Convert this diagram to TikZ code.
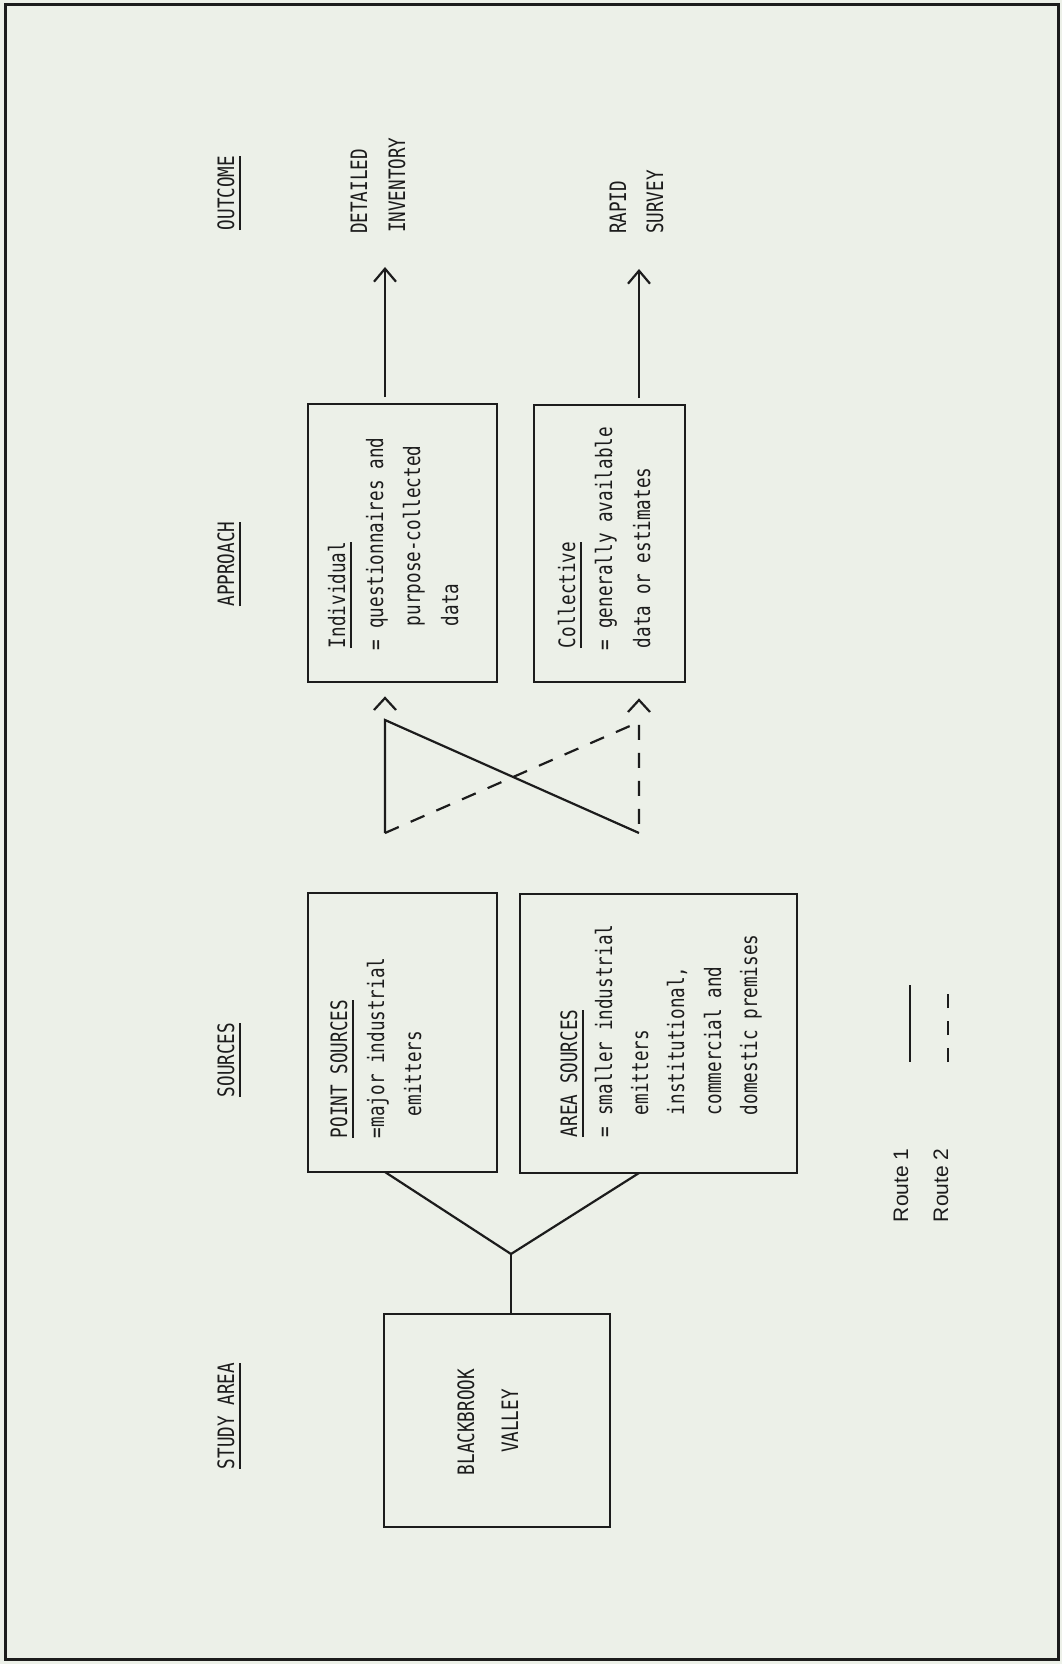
\documentclass[tikz,border=0pt]{standalone}
\usepackage{fontspec}
\newfontfamily\plotfont[FakeStretch=0.78]{DejaVu Sans Mono}
\newfontfamily\legfont{Liberation Sans}
\usetikzlibrary{arrows.meta,calc}
\definecolor{paper}{RGB}{236,240,232}
\definecolor{ink}{RGB}{28,28,28}
\newsavebox\ulbox
\newcommand\plotul[1]{\sbox\ulbox{#1}\rlap{\rule[-3.6pt]{\wd\ulbox}{1pt}}\usebox\ulbox}
\tikzset{
  txt/.style={rotate=90, anchor=base west, inner sep=0pt, outer sep=0pt, text=ink,
    font=\plotfont\fontsize{11.3pt}{13pt}\selectfont},
  hdr/.style={txt, anchor=base},
  leg/.style={rotate=90, anchor=base west, inner sep=0pt, outer sep=0pt, text=ink,
    font=\legfont\fontsize{10.5pt}{12pt}\selectfont},
  box/.style={draw=ink, line width=1.3pt, inner sep=0pt, outer sep=0pt},
  conn/.style={draw=ink, line width=1.1pt},
  dashes/.style={dash pattern=on 7.5pt off 6.5pt},
  tip/.style={-{Straight Barb[length=6.5pt,width=11pt]}}
}
\begin{document}
\begin{tikzpicture}[x=0.5pt,y=-0.5pt]
\fill[paper] (0,0) rectangle (1062,1664);
\draw[ink, line width=1.5pt] (5,5) rectangle (1058,1659);

% column headers
\node[hdr] (hStudy) at (234,1416) {\plotul{STUDY AREA}};
\node[hdr] (hSrc) at (234,1060) {\plotul{SOURCES}};
\node[hdr] (hAppr) at (234,564) {\plotul{APPROACH}};
\node[hdr] (hOut) at (234,193) {\plotul{OUTCOME}};

% boxes
\node[box, minimum width=113pt, minimum height=106.5pt] (bb) at (497,1420.5) {};
\node[box, minimum width=94.5pt, minimum height=139.5pt] (ps) at (402.5,1032.5) {};
\node[box, minimum width=138.5pt, minimum height=139.5pt] (as) at (658.5,1033.5) {};
\node[box, minimum width=94.5pt, minimum height=139pt] (ind) at (402.5,543) {};
\node[box, minimum width=75.5pt, minimum height=138.5pt] (col) at (609.5,543.5) {};

% study area text
\node[hdr] (bb1) at (474,1422) {BLACKBROOK};
\node[hdr] (bb2) at (518,1421) {VALLEY};

% point sources text
\node[txt] (ps1) at (347,1138) {\plotul{POINT SOURCES}};
\node[txt] (ps2) at (384,1138) {=major industrial};
\node[txt] (ps3) at (421,1116) {emitters};

% area sources text
\node[txt] (as1) at (577,1137) {\plotul{AREA SOURCES}};
\node[txt] (as2) at (612,1137) {= smaller industrial};
\node[txt] (as3) at (648,1115) {emitters};
\node[txt] (as4) at (684,1115) {institutional,};
\node[txt] (as5) at (721,1115) {commercial and};
\node[txt] (as6) at (757,1115) {domestic premises};

% individual text
\node[txt] (in1) at (345,648) {\plotul{Individual}};
\node[txt] (in2) at (383,650) {= questionnaires and};
\node[txt] (in3) at (420,626) {purpose-collected};
\node[txt] (in4) at (458,626) {data};

% collective text
\node[txt] (co1) at (575,648) {\plotul{Collective}};
\node[txt] (co2) at (612,650) {= generally available};
\node[txt] (co3) at (650,648) {data or estimates};

% outcomes
\node[txt] (o1) at (367,234) {DETAILED};
\node[txt] (o2) at (405,233) {INVENTORY};
\node[txt] (o3) at (626,234) {RAPID};
\node[txt] (o4) at (663,234) {SURVEY};

% helper coordinates
\coordinate (cA) at (385,0);
\coordinate (cB) at (639,0);
\coordinate (fork) at (511,1254);
\coordinate (a1) at (385,833);
\coordinate (a2) at (385,720);
\coordinate (b1) at (639,833);
\coordinate (b2) at (639,722);
\coordinate (hA) at (385,698);
\coordinate (hB) at (639,700);
\coordinate (tD) at (385,267);
\coordinate (tR) at (639,269);

% study area to sources
\draw[conn] (bb.north -| fork) -- (fork);
\draw[conn] (fork) -- (ps.south -| cA);
\draw[conn] (fork) -- (as.south -| cB);

% sources to approach
\draw[conn] (a1) -- (a2) -- (b1);
\draw[conn, dashes] (a1) -- (b2) -- (b1);
\draw[conn] (hA) +(-11,12) -- (hA) -- +(11,12);
\draw[conn] (hB) +(-11,12) -- (hB) -- +(11,12);

% approach to outcome
\draw[conn, tip, shorten <=3.5pt] (ind.north -| cA) -- (tD);
\draw[conn, tip, shorten <=3.5pt] (col.north -| cB) -- (tR);

% legend
\node[leg] (r1) at (908,1222) {Route 1};
\node[leg] (r2) at (948,1222) {Route 2};
\coordinate (l1a) at (910,985);
\coordinate (l1b) at (910,1062);
\coordinate (l2a) at (948,992);
\coordinate (l2b) at (948,1062);
\draw[conn] (l1a) -- (l1b);
\draw[conn, dash pattern=on 7pt off 6.5pt] (l2b) -- (l2a);
\end{tikzpicture}
\end{document}
